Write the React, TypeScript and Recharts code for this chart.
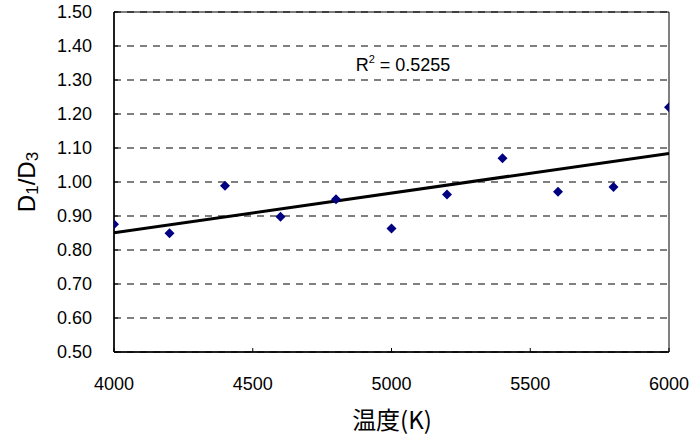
import React from "react";
import {
  ComposedChart,
  XAxis,
  YAxis,
  CartesianGrid,
  Scatter,
  Line,
  ReferenceArea,
} from "recharts";

const temps = [4000, 4200, 4400, 4600, 4800, 5000, 5200, 5400, 5600, 5800, 6000];
const ratios = [0.876, 0.849, 0.989, 0.898, 0.949, 0.863, 0.963, 1.07, 0.971, 0.985, 1.22];
const trendTemps = [4000, 6000];
const trendRatios = [0.851, 1.084];
const xTicks = [4000, 4500, 5000, 5500, 6000];
const yTicks = [0.5, 0.6, 0.7, 0.8, 0.9, 1.0, 1.1, 1.2, 1.3, 1.4, 1.5];
const r2Label = "0.5255";

const points = temps.map((x, i) => ({ x, y: ratios[i] }));
const trend = trendTemps.map((x, i) => ({ x, y: trendRatios[i] }));

const FONT = "'Liberation Sans', Arial, sans-serif";
const CJK = "'Noto Sans CJK JP', sans-serif";

const Diamond = (props: any) => {
  const { cx, cy } = props;
  if (cx == null || cy == null) return null;
  const r = 5;
  return (
    <path
      d={`M${cx},${cy - r}L${cx + r},${cy}L${cx},${cy + r}L${cx - r},${cy}Z`}
      fill="#000080"
    />
  );
};

const XTick = (props: any) => {
  const { x, y, payload } = props;
  const axisY = y - 25;
  return (
    <g>
      <line x1={x} x2={x} y1={axisY} y2={axisY - 4} stroke="#000" strokeWidth={1} />
      <text x={x} y={y} dy="0.71em" textAnchor="middle" fontFamily={FONT} fontSize={18} fill="#000">
        {payload.value}
      </text>
    </g>
  );
};

const YTick = (props: any) => {
  const { x, y, payload } = props;
  const axisX = x + 22;
  return (
    <g>
      <line x1={axisX} x2={axisX + 4} y1={y} y2={y} stroke="#000" strokeWidth={1} />
      <text x={x} y={y} dy="0.36em" textAnchor="end" fontFamily={FONT} fontSize={18} fill="#000">
        {Number(payload.value).toFixed(2)}
      </text>
    </g>
  );
};

const YTitle = () => (
  <text
    x={0}
    y={0}
    transform="translate(35,182) rotate(-90)"
    textAnchor="middle"
    fontFamily={FONT}
    fontSize={24}
    fill="#000"
  >
    <tspan>D</tspan>
    <tspan fontSize={17} dy={3}>1</tspan>
    <tspan dy={-3}>/D</tspan>
    <tspan fontSize={17} dy={3}>3</tspan>
  </text>
);

const XTitle = () => (
  <text x={392} y={429} textAnchor="middle" fontFamily={CJK} fontSize={24} fill="#000">
    温度(K)
  </text>
);

const R2Text = () => (
  <text x={403} y={71} textAnchor="middle" fontFamily={FONT} fontSize={18} fill="#000">
    <tspan>R</tspan>
    <tspan fontSize={11} dy={-8}>2</tspan>
    <tspan dy={8}>{` = ${r2Label}`}</tspan>
  </text>
);

export default function App() {
  return (
    <div style={{ position: "absolute", left: 0, top: 0, width: 697, height: 436, background: "#fff" }}>
      <ComposedChart
        width={697}
        height={436}
        margin={{ top: 12, right: 28, bottom: 0, left: 0 }}
      >
        <CartesianGrid
          horizontal={true}
          vertical={false}
          stroke="#000"
          strokeDasharray="7 6"
        />
        <XAxis
          dataKey="x"
          type="number"
          domain={[4000, 6000]}
          ticks={xTicks}
          height={84}
          tickSize={0}
          tickMargin={25}
          tick={<XTick />}
          axisLine={{ stroke: "#000", strokeWidth: 1.5 }}
          label={<XTitle />}
          allowDataOverflow
        />
        <YAxis
          dataKey="y"
          type="number"
          domain={[0.5, 1.5]}
          ticks={yTicks}
          width={114}
          tickSize={0}
          tickMargin={22}
          tick={<YTick />}
          axisLine={{ stroke: "#000", strokeWidth: 1.5 }}
          label={<YTitle />}
          allowDataOverflow
        />
        <ReferenceArea
          x1={4000}
          x2={6000}
          y1={0.5}
          y2={1.5}
          fill="none"
          fillOpacity={0}
          stroke="#000"
          strokeWidth={1}
          ifOverflow="visible"
          label={<R2Text />}
        />
        <Line
          data={trend}
          dataKey="y"
          stroke="#000"
          strokeWidth={3}
          dot={false}
          activeDot={false}
          isAnimationActive={false}
          legendType="none"
        />
        <Scatter
          data={points}
          dataKey="y"
          shape={<Diamond />}
          isAnimationActive={false}
        />
      </ComposedChart>
    </div>
  );
}
